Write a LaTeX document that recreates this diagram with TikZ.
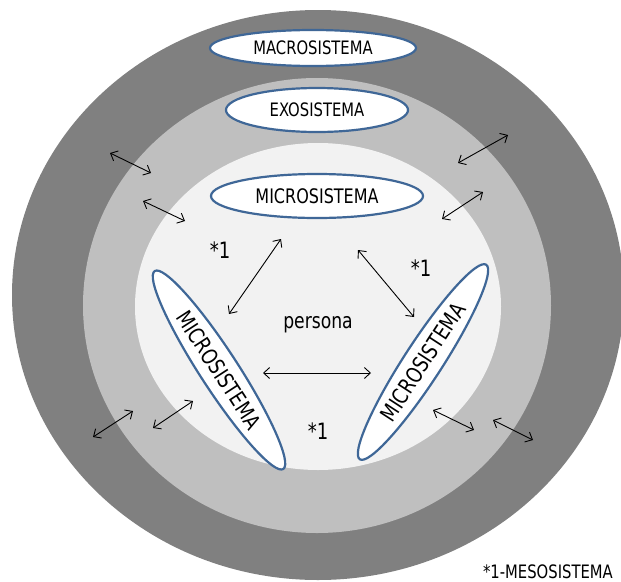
\documentclass[tikz,border=0pt]{standalone}
\usepackage{fontspec}
\setmainfont{DejaVu Sans}[FakeStretch=0.8]
\usetikzlibrary{arrows.meta,shapes.geometric}
\definecolor{ringdark}{HTML}{808080}
\definecolor{ringmid}{HTML}{BFBFBF}
\definecolor{ringlight}{HTML}{F2F2F2}
\definecolor{rimblue}{HTML}{3F6797}

\begin{document}
\begin{tikzpicture}[
    x=1pt, y=-1pt, >={Straight Barb[length=6pt,width=11pt]},
    sys/.style={ellipse, draw=rimblue, line width=2.2pt, fill=white, inner sep=0pt},
    link/.style={<->, line width=0.9pt},
    mark1/.style={font=\fontsize{22.5}{22.5}\selectfont}
  ]
    \useasboundingbox (0,0) rectangle (621,581);
    % rings
    \fill[ringdark] (318,295) ellipse [x radius=306pt, y radius=285pt];
    \fill[ringmid] (317,305.5) ellipse [x radius=234pt, y radius=227.5pt];
    \fill[ringlight] (318,306.5) ellipse [x radius=183pt, y radius=163.5pt];

    \node[sys, minimum width=206pt, minimum height=36pt, font=\fontsize{18.5}{18.5}\selectfont] (macro) at (313,48) {MACROSISTEMA};
    \node[sys, minimum width=182pt, minimum height=44pt, font=\fontsize{18.5}{18.5}\selectfont] (exo) at (317,110) {EXOSISTEMA};
    \node[sys, minimum width=212pt, minimum height=44pt, font=\fontsize{20}{20}\selectfont] (microtop) at (317,196) {MICROSISTEMA};
    \node[sys, minimum width=236pt, minimum height=38pt, rotate=-57, font=\fontsize{22}{22}\selectfont] (microleft) at (219,370) {MICROSISTEMA};
    \node[sys, minimum width=232pt, minimum height=38pt, rotate=57, font=\fontsize{22}{22}\selectfont] (microright) at (423,362) {MICROSISTEMA};

    \node[font=\fontsize{21.5}{21.5}\selectfont] (persona) at (318,325) {persona};
    \node[mark1] (mesoA) at (220,250) {*1};
    \node[mark1] (mesoB) at (421,268) {*1};
    \node[mark1] (mesoC) at (318,431) {*1};
    \node[anchor=east, inner sep=1pt, font=\fontsize{18.5}{18.5}\selectfont] (legend) at (614,572) {*1-MESOSISTEMA};

    % mesosystem links
    \coordinate (t1) at (281,239);  \coordinate (l1) at (229,314);
    \coordinate (t2) at (358,250);  \coordinate (r2) at (414,317);
    \coordinate (l3) at (263,373);  \coordinate (r3) at (371,373);
    \draw[link] (t1) -- (l1);
    \draw[link] (t2) -- (r2);
    \draw[link] (l3) -- (r3);

    % links across the rings
    \coordinate (ulo1) at (110,153); \coordinate (ulo2) at (151,173);
    \coordinate (uli1) at (143,201); \coordinate (uli2) at (185,221);
    \coordinate (uro1) at (508,135); \coordinate (uro2) at (458,163);
    \coordinate (uri1) at (483,192); \coordinate (uri2) at (442,219);
    \coordinate (llo1) at (133,411); \coordinate (llo2) at (93,437);
    \coordinate (lli1) at (193,401); \coordinate (lli2) at (153,428);
    \coordinate (lri1) at (433,410); \coordinate (lri2) at (474,430);
    \coordinate (lro1) at (493,420); \coordinate (lro2) at (533,440);
    \draw[link] (ulo1) -- (ulo2);
    \draw[link] (uli1) -- (uli2);
    \draw[link] (uro1) -- (uro2);
    \draw[link] (uri1) -- (uri2);
    \draw[link] (llo1) -- (llo2);
    \draw[link] (lli1) -- (lli2);
    \draw[link] (lri1) -- (lri2);
    \draw[link] (lro1) -- (lro2);
  \end{tikzpicture}
\end{document}
